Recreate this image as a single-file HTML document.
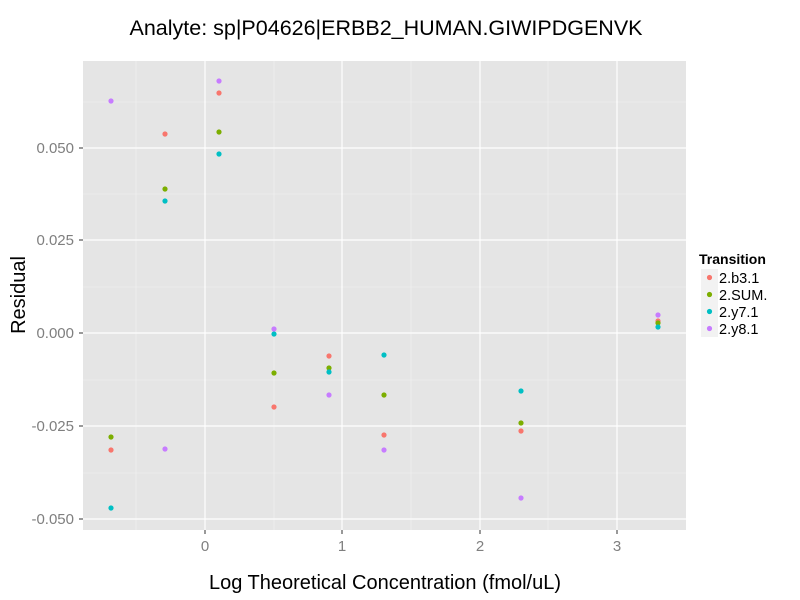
<!DOCTYPE html>
<html><head><meta charset="utf-8"><style>body{margin:0;background:#fff}svg{display:block}text{font-family:"Liberation Sans",sans-serif}</style></head>
<body>
<svg width="800" height="600" xmlns="http://www.w3.org/2000/svg">
<rect width="800" height="600" fill="#fff"/>
<rect x="83" y="61" width="603" height="469" fill="#e5e5e5"/>
<g stroke="#f2f2f2" stroke-width="0.6">
<line x1="136" x2="136" y1="61" y2="530"/><line x1="274" x2="274" y1="61" y2="530"/><line x1="411" x2="411" y1="61" y2="530"/><line x1="548" x2="548" y1="61" y2="530"/>
<line x1="83" x2="686" y1="102" y2="102"/><line x1="83" x2="686" y1="194" y2="194"/><line x1="83" x2="686" y1="287" y2="287"/><line x1="83" x2="686" y1="380" y2="380"/><line x1="83" x2="686" y1="473" y2="473"/>
</g>
<g stroke="#fff" stroke-width="1.2">
<line x1="205" x2="205" y1="61" y2="530"/><line x1="342" x2="342" y1="61" y2="530"/><line x1="480" x2="480" y1="61" y2="530"/><line x1="617" x2="617" y1="61" y2="530"/>
<line x1="83" x2="686" y1="148" y2="148"/><line x1="83" x2="686" y1="240" y2="240"/><line x1="83" x2="686" y1="333" y2="333"/><line x1="83" x2="686" y1="426" y2="426"/><line x1="83" x2="686" y1="519" y2="519"/>
</g>
<g stroke="#333" stroke-width="1">
<line x1="79" x2="83" y1="148" y2="148"/><line x1="79" x2="83" y1="240" y2="240"/><line x1="79" x2="83" y1="333" y2="333"/><line x1="79" x2="83" y1="426" y2="426"/><line x1="79" x2="83" y1="519" y2="519"/>
<line x1="205" x2="205" y1="530" y2="534"/><line x1="342" x2="342" y1="530" y2="534"/><line x1="480" x2="480" y1="530" y2="534"/><line x1="617" x2="617" y1="530" y2="534"/>
</g>
<g font-size="15" fill="#7f7f7f" text-anchor="end">
<text x="74" y="153">0.050</text><text x="74" y="245">0.025</text><text x="74" y="338">0.000</text><text x="74" y="431">-0.025</text><text x="74" y="524">-0.050</text>
</g>
<g font-size="15" fill="#7f7f7f" text-anchor="middle">
<text x="205" y="551">0</text><text x="342" y="551">1</text><text x="480" y="551">2</text><text x="617" y="551">3</text>
</g>
<g fill="#F8766D">
<circle cx="111" cy="450" r="2.6"/><circle cx="165" cy="134" r="2.6"/><circle cx="219" cy="93" r="2.6"/><circle cx="274" cy="407" r="2.6"/><circle cx="329" cy="356" r="2.6"/><circle cx="384" cy="435" r="2.6"/><circle cx="521" cy="431" r="2.6"/><circle cx="658" cy="321" r="2.6"/>
</g>
<g fill="#7CAE00">
<circle cx="111" cy="437" r="2.6"/><circle cx="165" cy="189" r="2.6"/><circle cx="219" cy="132" r="2.6"/><circle cx="274" cy="373" r="2.6"/><circle cx="329" cy="368" r="2.6"/><circle cx="384" cy="395" r="2.6"/><circle cx="521" cy="423" r="2.6"/><circle cx="658" cy="323" r="2.6"/>
</g>
<g fill="#00BFC4">
<circle cx="111" cy="508" r="2.6"/><circle cx="165" cy="201" r="2.6"/><circle cx="219" cy="154" r="2.6"/><circle cx="274" cy="334" r="2.6"/><circle cx="329" cy="372" r="2.6"/><circle cx="384" cy="355" r="2.6"/><circle cx="521" cy="391" r="2.6"/><circle cx="658" cy="327" r="2.6"/>
</g>
<g fill="#C77CFF">
<circle cx="111" cy="101" r="2.6"/><circle cx="165" cy="449" r="2.6"/><circle cx="219" cy="81" r="2.6"/><circle cx="274" cy="329" r="2.6"/><circle cx="329" cy="395" r="2.6"/><circle cx="384" cy="450" r="2.6"/><circle cx="521" cy="498" r="2.6"/><circle cx="658" cy="315" r="2.6"/>
</g>
<text x="386" y="35" font-size="21.5" text-anchor="middle" fill="#000">Analyte: sp|P04626|ERBB2_HUMAN.GIWIPDGENVK</text>
<text x="385" y="589" font-size="20" text-anchor="middle" fill="#000">Log Theoretical Concentration (fmol/uL)</text>
<text transform="translate(25,295) rotate(-90)" font-size="20" text-anchor="middle" fill="#000">Residual</text>
<text x="699" y="264" font-size="14" font-weight="bold" fill="#000">Transition</text>
<g fill="#f2f2f2">
<rect x="701" y="269" width="17" height="17"/><rect x="701" y="286" width="17" height="17"/><rect x="701" y="303" width="17" height="17"/><rect x="701" y="320" width="17" height="17"/>
</g>
<circle cx="709.5" cy="277.5" r="2.6" fill="#F8766D"/><circle cx="709.5" cy="294.5" r="2.6" fill="#7CAE00"/><circle cx="709.5" cy="311.5" r="2.6" fill="#00BFC4"/><circle cx="709.5" cy="328.5" r="2.6" fill="#C77CFF"/>
<g font-size="14.5" fill="#000">
<text x="719" y="283">2.b3.1</text><text x="719" y="300">2.SUM.</text><text x="719" y="317">2.y7.1</text><text x="719" y="334">2.y8.1</text>
</g>
</svg>
</body></html>
